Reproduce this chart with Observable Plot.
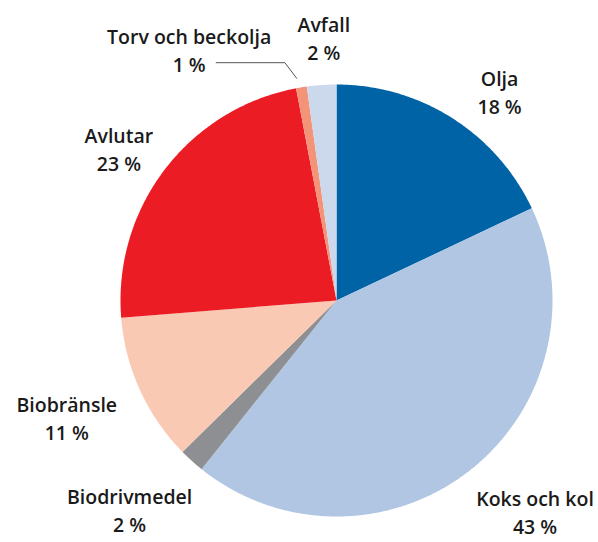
<!DOCTYPE html>
<html>
<head>
<meta charset="utf-8">
<script src="https://cdn.jsdelivr.net/npm/d3@7"></script>
<script src="https://cdn.jsdelivr.net/npm/@observablehq/plot@0.6"></script>
<style>
  html, body { margin: 0; padding: 0; background: #fff; }
  #chart svg { display: block; overflow: visible; }
</style>
</head>
<body>
<div id="chart"></div>
<script>
// Data (clockwise from 12 o'clock)
const categories = ["Olja", "Koks och kol", "Biodrivmedel", "Biobränsle", "Avlutar", "Torv och beckolja", "Avfall"];
const shares = [18.0, 42.8, 1.9, 11.1, 23.3, 0.8, 2.2];
const percentLabels = ["18 %", "43 %", "2 %", "11 %", "23 %", "1 %", "2 %"];
const colors = ["#0063a6", "#b0c6e3", "#8e8f92", "#f9c9b4", "#ec1c24", "#f39378", "#ccd9ec"];

// Label layout: [angle shift in degrees, radius in pie radii]
const labelLayout = {
  "Olja": [5.5, 1.23],
  "Koks och kol": [-5.0, 1.34],
  "Biodrivmedel": [2.7, 1.36],
  "Biobränsle": [1.2, 1.36],
  "Avlutar": [-2.3, 1.23],
  "Torv och beckolja": [-21, 1.35],
  "Avfall": [1.2, 1.22]
};

const pie = d3.pie().sort(null).value(d => d)(shares);
const rad = deg => deg * Math.PI / 180;
const polar = (a, r) => ({x: r * Math.sin(a), y: r * Math.cos(a)});

// slice polygons
const slicePts = [];
pie.forEach((p, i) => {
  const name = categories[i];
  slicePts.push({name, ...polar(0, 0)});
  const n = Math.max(4, Math.ceil((p.endAngle - p.startAngle) / rad(0.5)));
  for (let k = 0; k <= n; k++) {
    const a = p.startAngle + (p.endAngle - p.startAngle) * k / n;
    slicePts.push({name, ...polar(a, 1)});
  }
});

// labels
const labels = pie.map((p, i) => {
  const name = categories[i];
  const [shift, r] = labelLayout[name];
  const a = (p.startAngle + p.endAngle) / 2 + rad(shift);
  return {name, text: name + "\n" + percentLabels[i], ...polar(a, r)};
});

// leader line for the small "Torv och beckolja" slice
const ti = categories.indexOf("Torv och beckolja");
const tp = pie[ti];
const tMid = (tp.startAngle + tp.endAngle) / 2;
const tEnd = polar(tMid - rad(0.8), 1.045);
const tLab = labels[ti];
const leaderY = tLab.y - 0.064;
const leader = [
  {x: tLab.x + 0.125, y: leaderY},
  {x: tEnd.x - 0.055, y: leaderY},
  {x: tEnd.x, y: tEnd.y}
];

const chart = Plot.plot({
  width: 598,
  height: 542,
  margin: 0,
  x: {domain: [-1, 1], range: [120, 552], axis: null},
  y: {domain: [-1, 1], range: [516, 84], axis: null},
  color: {domain: categories, range: colors},
  style: {fontFamily: "'Open Sans', sans-serif", background: "#fff"},
  marks: [
    Plot.line(slicePts, {x: "x", y: "y", z: "name", fill: "name", stroke: "none", curve: "linear-closed"}),
    Plot.line(leader, {x: "x", y: "y", stroke: "#555", strokeWidth: 1}),
    Plot.text(labels, {
      x: "x", y: "y", text: "text",
      fill: "#1a1a1a", fontSize: 19.5, fontWeight: 600,
      lineHeight: 1.44, lineAnchor: "middle", textAnchor: "middle"
    })
  ]
});
document.getElementById("chart").appendChild(chart);
</script>
</body>
</html>
